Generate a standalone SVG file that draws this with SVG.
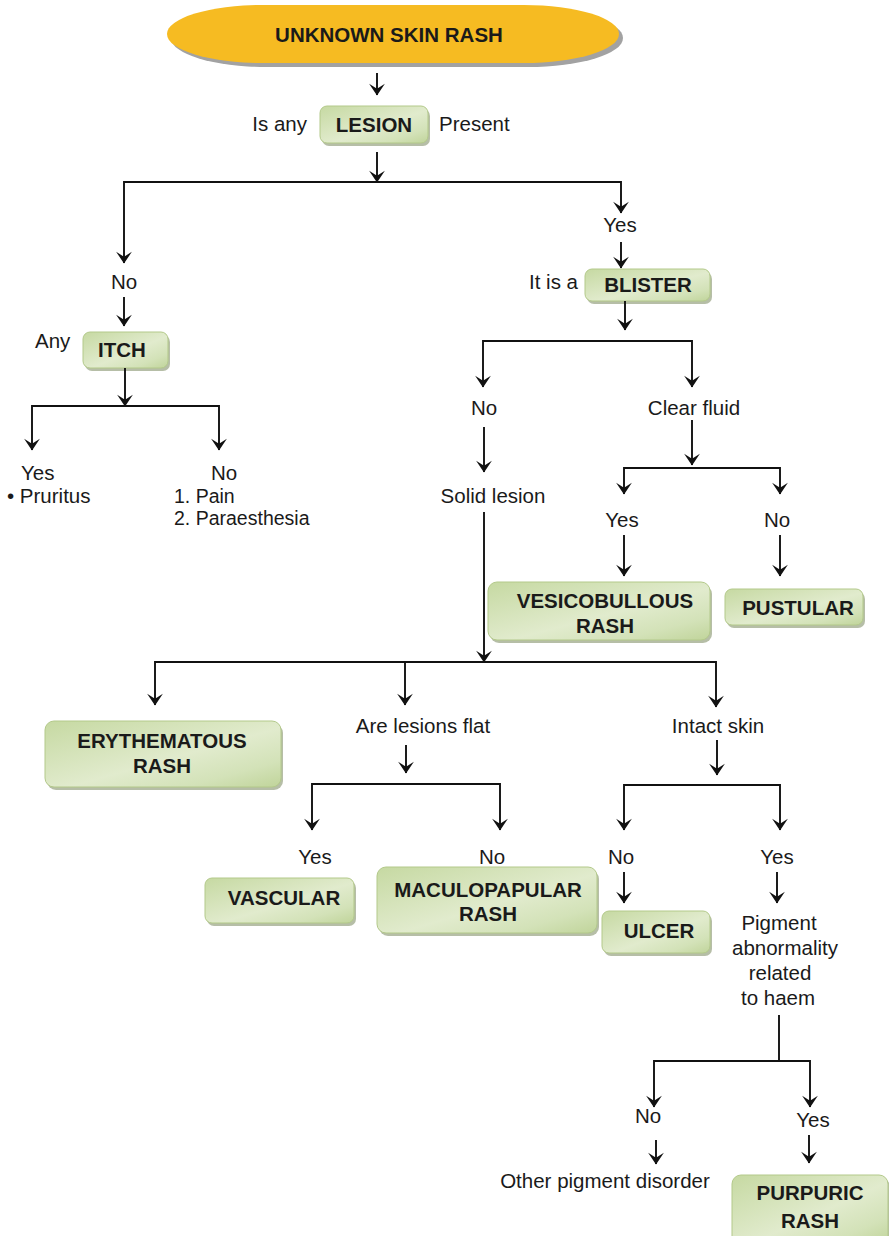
<svg xmlns="http://www.w3.org/2000/svg" width="889" height="1236" viewBox="0 0 889 1236">
  <defs>
    <linearGradient id="greenFill" x1="0" y1="0" x2="1" y2="1">
      <stop offset="0" stop-color="#c6d9a2"/>
      <stop offset="0.55" stop-color="#e1ebcd"/>
      <stop offset="0.8" stop-color="#d3e2b8"/>
      <stop offset="1" stop-color="#c0d49a"/>
    </linearGradient>
    <marker id="arrow" markerUnits="userSpaceOnUse" markerWidth="16" markerHeight="18" refX="0" refY="0" viewBox="-11 -8 12 16" orient="auto" overflow="visible">
      <path d="M0.5,0 L-10,-7 L-5.5,0 L-10,7 Z" fill="#111"/>
    </marker>
    <style>
      .lbl { font-family: "Liberation Sans", Arial, sans-serif; font-size: 20.5px; fill: #1a1a1a; }
      .small { font-size: 19.5px; }
      .bold { font-family: "Liberation Sans", Arial, sans-serif; font-size: 20.5px; font-weight: bold; fill: #1a1a1a; text-anchor: middle; }
      .mid { text-anchor: middle; }
      .end { text-anchor: end; }
      .box { fill: url(#greenFill); stroke: #b3c98a; stroke-width: 1; }
      .shadow { fill: #9ea88a; opacity: 0.75; }
      .wire { fill: none; stroke: #111; stroke-width: 1.9; }
      .wire.arr { marker-end: url(#arrow); }
    </style>
  </defs>

  <rect width="889" height="1236" fill="#ffffff"/>

  <!-- start terminal -->
  <g id="start">
    <rect x="171" y="9" width="452" height="58" rx="95" ry="29" fill="#a2a2a2"/>
    <rect x="167" y="5" width="452" height="58" rx="95" ry="29" fill="#f6bb22"/>
    <text class="bold" x="389" y="42">UNKNOWN SKIN RASH</text>
  </g>

  <!-- decision: lesion -->
  <g id="lesion">
    <text class="lbl end" x="307" y="131">Is any</text>
    <rect class="shadow" x="322" y="109" width="108" height="37" rx="7"/>
    <rect class="box" x="320" y="106" width="108" height="37" rx="7"/>
    <text class="bold" x="374" y="132">LESION</text>
    <text class="lbl" x="439" y="131">Present</text>
  </g>

  <!-- left branch: no lesion -->
  <g id="no-lesion"><text class="lbl mid" x="124" y="289">No</text></g>
  <g id="itch">
    <text class="lbl" x="35" y="348">Any</text>
    <rect class="shadow" x="85" y="335" width="85" height="36" rx="7"/>
    <rect class="box" x="83" y="332" width="85" height="36" rx="7"/>
    <text class="bold" x="122" y="357">ITCH</text>
  </g>
  <g id="itch-yes">
    <text class="lbl" x="21" y="480">Yes</text>
    <text class="lbl" x="7" y="503">• Pruritus</text>
  </g>
  <g id="itch-no">
    <text class="lbl mid" x="224" y="480">No</text>
    <text class="lbl small" x="174" y="503">1. Pain</text>
    <text class="lbl small" x="174" y="525">2. Paraesthesia</text>
  </g>

  <!-- right branch: lesion present -->
  <g id="yes-lesion"><text class="lbl mid" x="620" y="232">Yes</text></g>
  <g id="blister">
    <text class="lbl end" x="578" y="289">It is a</text>
    <rect class="shadow" x="587" y="272" width="125" height="32" rx="7"/>
    <rect class="box" x="585" y="269" width="125" height="32" rx="7"/>
    <text class="bold" x="648" y="292">BLISTER</text>
  </g>
  <g id="blister-no"><text class="lbl mid" x="484" y="415">No</text></g>
  <g id="clear-fluid"><text class="lbl mid" x="694" y="415">Clear fluid</text></g>
  <g id="solid-lesion"><text class="lbl mid" x="493" y="503">Solid lesion</text></g>
  <g id="fluid-yes"><text class="lbl mid" x="622" y="527">Yes</text></g>
  <g id="fluid-no"><text class="lbl mid" x="777" y="527">No</text></g>
  <g id="vesicobullous">
    <rect class="shadow" x="490" y="585" width="222" height="58" rx="9"/>
    <rect class="box" x="488" y="582" width="222" height="58" rx="9"/>
    <text class="bold" x="605" y="608">VESICOBULLOUS</text>
    <text class="bold" x="605" y="633">RASH</text>
  </g>
  <g id="pustular">
    <rect class="shadow" x="727" y="592" width="138" height="36" rx="7"/>
    <rect class="box" x="725" y="589" width="138" height="36" rx="7"/>
    <text class="bold" x="798" y="615">PUSTULAR</text>
  </g>

  <!-- solid lesion outcomes -->
  <g id="erythematous">
    <rect class="shadow" x="47" y="724" width="236" height="66" rx="9"/>
    <rect class="box" x="45" y="721" width="236" height="66" rx="9"/>
    <text class="bold" x="162" y="748">ERYTHEMATOUS</text>
    <text class="bold" x="162" y="773">RASH</text>
  </g>
  <g id="flat"><text class="lbl mid" x="423" y="733">Are lesions flat</text></g>
  <g id="flat-yes"><text class="lbl mid" x="315" y="864">Yes</text></g>
  <g id="flat-no"><text class="lbl mid" x="492" y="864">No</text></g>
  <g id="vascular">
    <rect class="shadow" x="207" y="881" width="149" height="45" rx="7"/>
    <rect class="box" x="205" y="878" width="149" height="45" rx="7"/>
    <text class="bold" x="284" y="905">VASCULAR</text>
  </g>
  <g id="maculopapular">
    <rect class="shadow" x="379" y="870" width="220" height="66" rx="9"/>
    <rect class="box" x="377" y="867" width="220" height="66" rx="9"/>
    <text class="bold" x="488" y="897">MACULOPAPULAR</text>
    <text class="bold" x="488" y="921">RASH</text>
  </g>
  <g id="intact-skin"><text class="lbl mid" x="718" y="733">Intact skin</text></g>
  <g id="skin-no"><text class="lbl mid" x="621" y="864">No</text></g>
  <g id="skin-yes"><text class="lbl mid" x="777" y="864">Yes</text></g>
  <g id="ulcer">
    <rect class="shadow" x="604" y="914" width="108" height="42" rx="7"/>
    <rect class="box" x="602" y="911" width="108" height="42" rx="7"/>
    <text class="bold" x="659" y="938">ULCER</text>
  </g>
  <g id="pigment">
    <text class="lbl mid" x="779" y="930">Pigment</text>
    <text class="lbl mid" x="785" y="955">abnormality</text>
    <text class="lbl mid" x="780" y="980">related</text>
    <text class="lbl mid" x="778" y="1005">to haem</text>
  </g>
  <g id="haem-no"><text class="lbl mid" x="648" y="1123">No</text></g>
  <g id="haem-yes"><text class="lbl mid" x="813" y="1127">Yes</text></g>
  <g id="other-pigment"><text class="lbl mid" x="605" y="1188">Other pigment disorder</text></g>
  <g id="purpuric">
    <rect class="shadow" x="734" y="1178" width="156" height="70" rx="9"/>
    <rect class="box" x="732" y="1175" width="156" height="70" rx="9"/>
    <text class="bold" x="810" y="1200">PURPURIC</text>
    <text class="bold" x="810" y="1228">RASH</text>
  </g>

  <!-- connectors -->
  <g id="connectors">
    <path class="wire arr" d="M377,73 V95"/>
    <path class="wire arr" d="M377,152 V182"/>
    <path class="wire arr" d="M377,182 H124 V263"/>
    <path class="wire arr" d="M377,182 H621 V213"/>
    <path class="wire arr" d="M621,242 V268"/>
    <path class="wire arr" d="M124,297 V326"/>
    <path class="wire arr" d="M125,368 V406"/>
    <path class="wire arr" d="M125,406 H32 V450"/>
    <path class="wire arr" d="M125,406 H219 V450"/>
    <path class="wire arr" d="M625,301 V330"/>
    <path class="wire arr" d="M587,341 H483 V387"/>
    <path class="wire arr" d="M587,341 H692 V387"/>
    <path class="wire arr" d="M484,427 V472"/>
    <path class="wire arr" d="M692,420 V465"/>
    <path class="wire arr" d="M692,468 H624 V494"/>
    <path class="wire arr" d="M692,468 H780 V494"/>
    <path class="wire arr" d="M624,535 V576"/>
    <path class="wire arr" d="M780,535 V576"/>
    <path class="wire arr" d="M484,512 V662"/>
    <path class="wire arr" d="M484,662 H155 V705"/>
    <path class="wire arr" d="M484,662 H716 V707"/>
    <path class="wire arr" d="M405,662 V705"/>
    <path class="wire arr" d="M406,745 V773"/>
    <path class="wire arr" d="M406,784 H312 V830"/>
    <path class="wire arr" d="M406,784 H500 V830"/>
    <path class="wire arr" d="M717,740 V775"/>
    <path class="wire arr" d="M717,785 H624 V830"/>
    <path class="wire arr" d="M717,785 H780 V830"/>
    <path class="wire arr" d="M624,872 V903"/>
    <path class="wire arr" d="M777,872 V903"/>
    <path class="wire" d="M779,1015 V1061"/>
    <path class="wire arr" d="M779,1061 H654 V1107"/>
    <path class="wire arr" d="M779,1061 H810 V1107"/>
    <path class="wire arr" d="M656,1140 V1164"/>
    <path class="wire arr" d="M809,1135 V1163"/>
  </g>
</svg>
